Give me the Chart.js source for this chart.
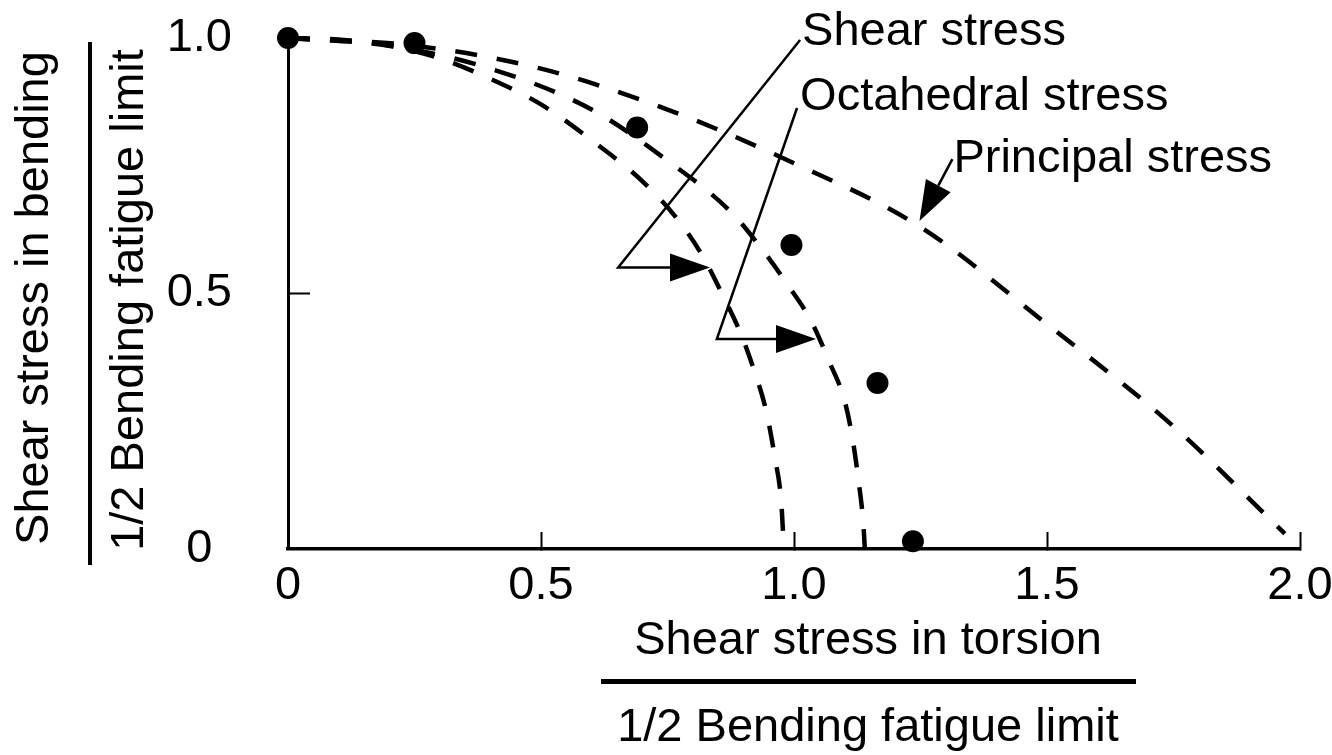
<!DOCTYPE html>
<html lang="en">
<head>
  <meta charset="UTF-8">
  <title>Bending and torsion fatigue</title>
  <script src="https://cdn.jsdelivr.net/npm/chart.js"></script>
  <style>
    body { margin:0; background:#fff }
    .wrap { width:1332px; height:755px; position:relative }
  </style>
</head>
<body>
  <div class="wrap"><canvas id="fatigueChart"></canvas></div>

  <script>
    const FONT = '"Liberation Sans", Arial, sans-serif';
    const FONT_SIZE = 47;

    // axis ticks
    const xTicks = [0, 0.5, 1.0, 1.5, 2.0];
    const yTicks = [0, 0.5, 1.0];

    // test results (torsion ratio, bending ratio)
    const testX = [0, 0.25, 0.69, 0.995, 1.165, 1.235];
    const testY = [1.0, 0.99, 0.825, 0.595, 0.325, 0.015];

    // theory curves
    const shearX = [0, 0.1, 0.2, 0.3, 0.4, 0.5, 0.6, 0.7, 0.766, 0.816, 0.857, 0.895, 0.921, 0.945, 0.962, 0.975, 0.98];
    const shearY = [1.0, 0.997, 0.985, 0.96, 0.92, 0.87, 0.8, 0.72, 0.65, 0.579, 0.501, 0.421, 0.35, 0.27, 0.18, 0.09, 0.0];

    const octX = [0, 0.2, 0.4, 0.6, 0.75, 0.877, 0.935, 0.986, 1.034, 1.069, 1.1, 1.115, 1.128, 1.137, 1.14];
    const octY = [1.0, 0.985, 0.94, 0.86, 0.76, 0.658, 0.589, 0.519, 0.446, 0.368, 0.29, 0.22, 0.13, 0.05, 0.0];

    const princX = [0, 0.25, 0.5, 0.75, 1.0, 1.25, 1.5, 1.75, 1.97];
    const princY = [1.0, 0.985, 0.94, 0.86, 0.755, 0.63, 0.44, 0.24, 0.03];

    // labels with leader arrows (data units)
    const labelNames = ['Shear stress', 'Octahedral stress', 'Principal stress'];
    const labelX = [1.016, 1.012, 1.315];
    const labelY = [0.986, 0.859, 0.738];
    const shearLeaderX = [1.012, 0.6525, 0.834];
    const shearLeaderY = [0.996, 0.551, 0.551];
    const octLeaderX = [1.006, 0.8475, 1.0435];
    const octLeaderY = [0.863, 0.411, 0.411];
    const princLeaderX = [1.313, 1.248];
    const princLeaderY = [0.763, 0.642];

    const xTitleTop = 'Shear stress in torsion';
    const yTitleTop = 'Shear stress in bending';
    const titleBottom = '1/2 Bending fatigue limit';

    function pts(xs, ys){ return xs.map((v,i)=>({x:v, y:ys[i]})); }

    function curve(label, xs, ys){
      return {
        label, data: pts(xs, ys), showLine:true,
        borderColor:'#000', borderWidth:4.5, borderDash:[22,20],
        pointRadius:0, cubicInterpolationMode:'monotone', clip:false
      };
    }

    function arrowHead(ctx, fx, fy, tx, ty){
      const a = Math.atan2(ty-fy, tx-fx), len = 40, hw = 14;
      const bx = tx - len*Math.cos(a), by = ty - len*Math.sin(a);
      ctx.beginPath();
      ctx.moveTo(tx, ty);
      ctx.lineTo(bx + hw*Math.sin(a), by - hw*Math.cos(a));
      ctx.lineTo(bx - hw*Math.sin(a), by + hw*Math.cos(a));
      ctx.closePath();
      ctx.fill();
      return [bx, by];
    }

    function leader(ctx, xs, ys, sx, sy){
      const p = xs.map((v,i)=>[sx.getPixelForValue(v), sy.getPixelForValue(ys[i])]);
      const n = p.length;
      const base = arrowHead(ctx, p[n-2][0], p[n-2][1], p[n-1][0], p[n-1][1]);
      ctx.beginPath();
      ctx.moveTo(p[0][0], p[0][1]);
      for(let i=1;i<n-1;i++) ctx.lineTo(p[i][0], p[i][1]);
      ctx.lineTo(base[0], base[1]);
      ctx.stroke();
    }

    const decor = {
      id:'decor',
      afterDraw(chart){
        const {ctx, scales:{x, y}} = chart;
        ctx.save();
        ctx.strokeStyle = '#000'; ctx.fillStyle = '#000'; ctx.lineWidth = 2.5;
        leader(ctx, shearLeaderX, shearLeaderY, x, y);
        leader(ctx, octLeaderX, octLeaderY, x, y);
        leader(ctx, princLeaderX, princLeaderY, x, y);

        ctx.font = `${FONT_SIZE}px ${FONT}`;
        ctx.textAlign = 'left'; ctx.textBaseline = 'alphabetic';
        labelNames.forEach((t,i)=>ctx.fillText(t, x.getPixelForValue(labelX[i]), y.getPixelForValue(labelY[i])));

        // x axis title as a fraction
        ctx.textAlign = 'center'; ctx.textBaseline = 'middle';
        ctx.fillText(xTitleTop, 868, 641);
        ctx.fillText(titleBottom, 868, 728);
        ctx.fillRect(601, 679, 535, 5);

        // y axis title as a fraction
        ctx.save();
        ctx.translate(35, 298);
        ctx.rotate(-Math.PI/2);
        ctx.fillText(yTitleTop, 0, 0);
        ctx.restore();
        ctx.save();
        ctx.translate(130, 300);
        ctx.rotate(-Math.PI/2);
        ctx.fillText(titleBottom, 0, 0);
        ctx.restore();
        ctx.fillRect(88, 42, 4, 523);
        ctx.restore();
      }
    };

    const fmt = v => v === 0 ? '0' : v.toFixed(1);

    new Chart(document.getElementById('fatigueChart'), {
      type:'scatter',
      data:{
        datasets:[
          curve('Shear stress', shearX, shearY),
          curve('Octahedral stress', octX, octY),
          curve('Principal stress', princX, princY),
          {
            label:'Test', data:pts(testX, testY),
            pointRadius:11, pointBackgroundColor:'#000', pointBorderColor:'#000',
            pointBorderWidth:0, showLine:false, clip:false
          }
        ]
      },
      options:{
        responsive:true, maintainAspectRatio:false, animation:false,
        layout:{padding:{left:0, right:32, top:38, bottom:0}},
        plugins:{legend:{display:false}, tooltip:{enabled:false}},
        scales:{
          x:{
            type:'linear', min:0, max:2,
            afterBuildTicks: s => { s.ticks = xTicks.map(v=>({value:v})); },
            afterFit: s => { s.height = 755 - 549; s.paddingLeft = 0; s.paddingRight = 0; },
            ticks:{ callback: fmt, color:'#000', font:{family:FONT, size:FONT_SIZE}, padding:26, maxRotation:0 },
            grid:{ drawOnChartArea:false, drawTicks:true, tickLength:-17, tickWidth:2,
                   tickColor: c => (c.tick && c.tick.value > 0) ? '#000' : 'rgba(0,0,0,0)' },
            border:{ display:true, color:'#000', width:3.5 }
          },
          y:{
            type:'linear', min:0, max:1,
            afterBuildTicks: s => { s.ticks = yTicks.map(v=>({value:v})); },
            afterFit: s => { s.width = 288; s.paddingTop = 0; s.paddingBottom = 0; },
            ticks:{ callback: fmt, color:'#000', font:{family:FONT, size:FONT_SIZE}, padding:78, crossAlign:'center' },
            grid:{ drawOnChartArea:false, drawTicks:true, tickLength:-22, tickWidth:2,
                   tickColor: c => (c.tick && c.tick.value === 0.5) ? '#000' : 'rgba(0,0,0,0)' },
            border:{ display:true, color:'#000', width:3 }
          }
        }
      },
      plugins:[decor]
    });
  </script>
</body>
</html>
